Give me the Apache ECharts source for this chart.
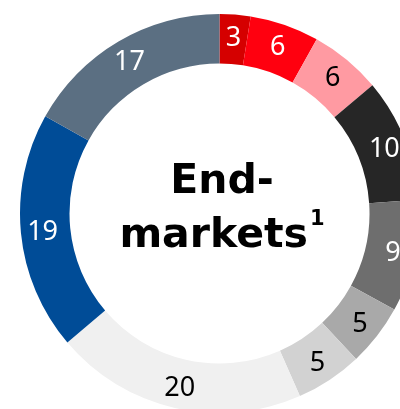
<!DOCTYPE html>
<html><head><meta charset="utf-8">
<script src="https://cdn.jsdelivr.net/npm/echarts@6/dist/echarts.min.js"></script>
<style>html,body{margin:0;padding:0;background:#fff}#c{width:400px;height:409px}</style>
</head><body><div id="c"></div>
<script>
const categories = ['A','B','C','D','E','F','G','H','I','J'];
// shares measured from the arc angles in the picture
const shares = [2.5, 5.6, 5.8, 10.0, 9.1, 5.0, 5.4, 20.4, 19.3, 16.9];
// rounded values printed on the slices
const labels = [3, 6, 6, 10, 9, 5, 5, 20, 19, 17];
const colors = ['#d50000','#ff000f','#ff9aa2','#262626','#6e6e6e','#a9a9a9','#d2d2d2','#f0f0f0','#004c97','#5b6f82'];
const labelColors = ['#fff','#fff','#000','#fff','#fff','#000','#000','#000','#fff','#fff'];
const centerLines = ['End-', 'markets'];
const centerSup = '1';

const chart = echarts.init(document.getElementById('c'));
chart.setOption({
  animation: false,
  title: {
    text: centerLines[0] + '\n' + centerLines[1] + '{sup|' + centerSup + '}',
    left: 217, top: 150, textAlign: 'center',
    textStyle: {
      fontFamily: 'DejaVu Sans', fontWeight: 'bold', fontSize: 41, lineHeight: 54, color: '#000',
      rich: { sup: { fontFamily: 'DejaVu Sans', fontWeight: 'bold', fontSize: 21, lineHeight: 54, verticalAlign: 'top', padding: [0,0,16,2], color: '#000' } }
    }
  },
  series: [{
    type: 'pie',
    center: [219.5, 213.5],
    radius: [150, 199.5],
    startAngle: 90,
    clockwise: true,
    avoidLabelOverlap: false,
    data: categories.map((c, i) => ({
      name: c, value: shares[i],
      itemStyle: { color: colors[i] },
      label: { color: labelColors[i], formatter: String(labels[i]) }
    })),
    itemStyle: { borderWidth: 0 },
    label: {
      show: true, position: 'inside', offset: [0, 2],
      fontFamily: 'Noto Sans', fontSize: 27
    },
    labelLine: { show: false }
  }]
});
</script></body></html>
